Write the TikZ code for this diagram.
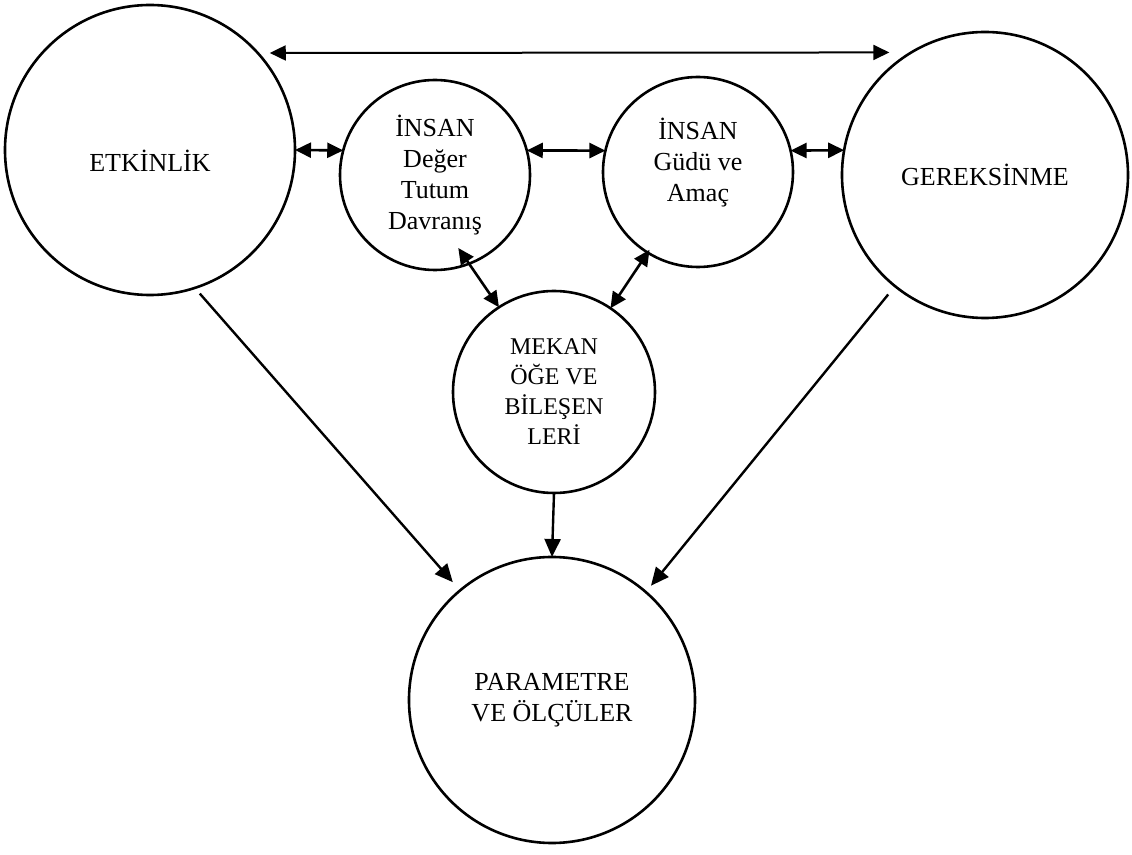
\documentclass[tikz,border=0pt]{standalone}
\usepackage{fontspec}
\setmainfont{Liberation Serif}
\usetikzlibrary{arrows.meta,positioning}

\begin{document}
\begin{tikzpicture}[x=0.5pt, y=-0.5pt,
    daire/.style={draw, circle, line width=1.3pt, inner sep=0pt, outer sep=0pt,
      align=center, font=\fontsize{13}{15.5}\selectfont},
    ok/.style={line width=1.2pt, -{Triangle[length=9pt,width=8pt]}},
    ciftok/.style={line width=1.3pt,
      {Triangle[length=8pt,width=7.5pt]}-{Triangle[length=8pt,width=7.5pt]}}]
  \useasboundingbox (0,0) rectangle (1132,855);

  % Daireler
  \node[daire, minimum size=145pt, text height=22pt] (etk) at (150,150) {ETKİNLİK};
  \node[daire, minimum size=143pt] (ger) at (985,175) {GEREKSİNME};
  \node[daire, minimum size=95pt] (deger) at (435,175) {İNSAN\\Değer\\Tutum\\Davranış};
  \node[daire, minimum size=95pt, text depth=12pt] (gudu) at (698,172) {İNSAN\\Güdü ve\\Amaç};
  \node[daire, minimum size=101pt, font=\fontsize{12}{15}\selectfont] (mek) at (554,392)
    {MEKAN\\ÖĞE VE\\BİLEŞEN\\LERİ};
  \node[daire, minimum size=143pt] (par) at (552,700) {PARAMETRE\\VE ÖLÇÜLER};

  % Oklar
  \draw[ciftok, line width=1pt, shorten <=6pt, shorten >=11pt] (etk.42) -- (ger.121.4);
  \draw[ciftok] (etk.east) -- (deger.165);
  \draw[ciftok] (deger.15) -- (gudu.167);
  \draw[ciftok] (gudu.13) -- (ger.170);
  \draw[ciftok, shorten >=-9.5pt] (mek.123) -- (deger.291);
  \draw[ciftok, shorten >=-1.7pt] (mek.56) -- (gudu.238);
  \draw[ok, shorten <=3.8pt, shorten >=5.5pt] (etk.288) -- (par.130);
  \draw[ok] (mek.south) -- (par.north);
  \draw[ok, shorten <=5.4pt, shorten >=4.1pt] (ger.231) -- (par.49);
\end{tikzpicture}
\end{document}
